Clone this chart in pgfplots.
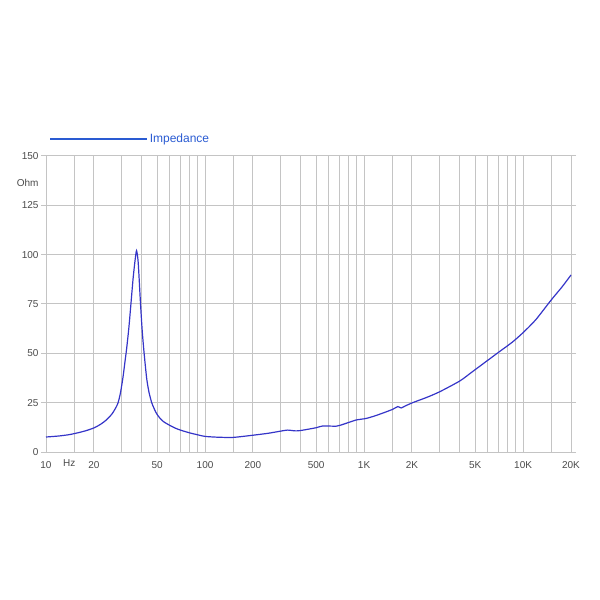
\documentclass[border=0pt]{standalone}
\usepackage{pgfplots}
\pgfplotsset{compat=1.18}
\usepackage{fontspec}
\setmainfont{Liberation Sans}
\definecolor{curve}{HTML}{3535C8}
\definecolor{leg}{HTML}{2A5BD2}
\definecolor{gridc}{HTML}{C4C4C4}
\definecolor{txt}{HTML}{4A4A4A}
\begin{document}
\begin{tikzpicture}
\begin{axis}[
  scale only axis,
  width=525pt, height=296pt,
  xmode=log,
  xmin=10, xmax=20000,
  ymin=0, ymax=150,
  log basis x=10,
  xtick={10,20,50,100,200,500,1000,2000,5000,10000,20000},
  xticklabels={10,20,50,100,200,500,1K,2K,5K,10K,20K},
  minor xtick={15,30,40,60,70,80,90,150,300,400,600,700,800,900,1500,3000,4000,6000,7000,8000,9000,15000},
  ytick={0,25,50,75,100,125,150},
  grid=both,
  major grid style={gridc, line width=1pt},
  minor grid style={gridc, line width=1pt},
  axis line style={gridc, line width=1pt},
  x tick style={draw=none},
  minor x tick style={draw=none},
  y tick style={gridc, line width=1pt},
  tick align=outside,
  major tick length=5pt,
  ticklabel style={font=\fontsize{10}{11}\selectfont, text=txt},
  /pgf/number format/assume math mode=true,
  xticklabel style={yshift=-1pt},
  yticklabel style={xshift=1pt},
  legend style={at={(axis description cs:0,1)}, anchor=south west, draw=none, fill=none, inner sep=0pt, xshift=3pt, yshift=10pt, font=\fontsize{12}{13}\selectfont, text=leg},
  legend image code/.code={\draw[leg, line width=1.6pt] (0pt,0pt) -- (97pt,0pt);},
  clip=false,
]
\addplot[curve, line width=1.2pt, smooth, tension=0.4] coordinates {
(10,7.6) (12,8.1) (14,8.8) (16,9.8) (18,10.9) (20,12.2) (22,14) (24,16.3) (26,19.3) (27.5,22.5)
(28.4,25) (29.4,30) (30.5,38) (31.4,46) (32.1,52) (33.2,63) (34.2,75) (35.3,88) (36.3,97) (37.1,102) (38,96) (39.3,75)
(40.3,61) (41.4,50) (43,37) (44.5,30) (46.2,25) (47.5,22.6) (49,20.2) (50.5,18.5) (52.5,16.8) (55,15.3) (60,13.5) (65,12.1) (70,11.1) (80,9.7) (90,8.7)
(100,7.9) (120,7.5) (150,7.4) (200,8.5) (250,9.5) (300,10.6) (330,11.1) (370,10.7) (400,10.9)
(500,12.3) (550,13.2) (670,13.1) (750,14.2) (890,16.2) (1030,17) (1200,18.6) (1500,21.5)
(1630,23) (1710,22.3) (1800,23.2) (2020,25) (2500,27.8) (3000,30.6) (4000,36) (4800,40.7)
(6000,46.5) (7080,50.8) (8500,55.5) (10000,60.5) (12000,67) (15000,77) (17500,83.5) (20000,89.7)
};
\addlegendentry{Impedance}
\node[font=\fontsize{10}{11}\selectfont, text=txt, anchor=north] at (axis cs:14,0) [yshift=-4pt] {Hz};
\node[font=\fontsize{10}{11}\selectfont, text=txt, anchor=east] at (axis description cs:0,0.91) [xshift=-4pt] {Ohm};
\end{axis}
\path (current axis.south west) ++(-46pt,-148pt) rectangle ++(600pt,600pt);
\end{tikzpicture}
\end{document}
